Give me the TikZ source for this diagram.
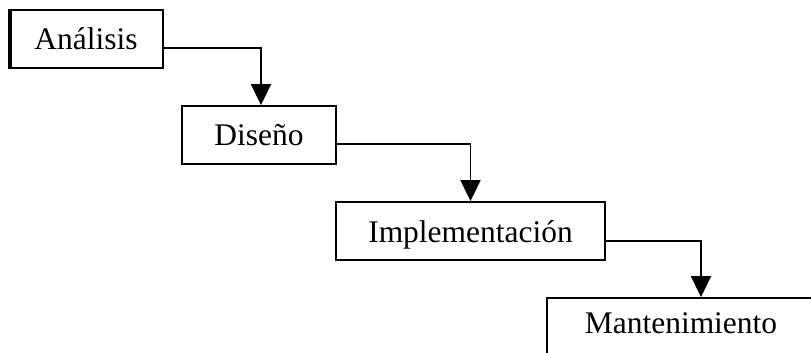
\documentclass[tikz,border=0pt]{standalone}
\usepackage{fontspec}
\setmainfont{Liberation Serif}
\usetikzlibrary{arrows.meta}

\begin{document}
\begin{tikzpicture}[
            x=0.75pt, y=-0.75pt,
            every node/.style={draw, line width=1.4pt, inner sep=0pt, minimum height=43.5pt,
                text height=16.5pt, text depth=0pt, font=\fontsize{23.6}{28}\selectfont},
            flow/.style={-{Triangle[width=15pt,length=15.75pt]}, line width=1.4pt}
            ]
            \clip (0,0) rectangle (811,353);
            \node[minimum width=115.5pt] (analisis) at (86,39) {Análisis};
            \node[minimum width=115.5pt] (diseno) at (259,135) {Diseño};
            \node[minimum width=201.75pt] (implementacion) at (470.5,231) {Implementación};
            \node[minimum width=201pt, text height=9pt] (mantenimiento) at (681,327) {Mantenimiento};
            % doble borde izquierdo
            \draw[line width=1.4pt] ([xshift=2.2pt]analisis.north west) -- ([xshift=2.2pt]analisis.south west);
            \draw[flow] ([yshift=-6.75pt]analisis.east) -| ([xshift=1.5pt]diseno.north);
            \draw[flow] ([yshift=-6.75pt]diseno.east) -| (implementacion.north);
            \draw[flow] ([yshift=-7.5pt]implementacion.east) -| ([xshift=15pt]mantenimiento.north);
\end{tikzpicture}
\end{document}
